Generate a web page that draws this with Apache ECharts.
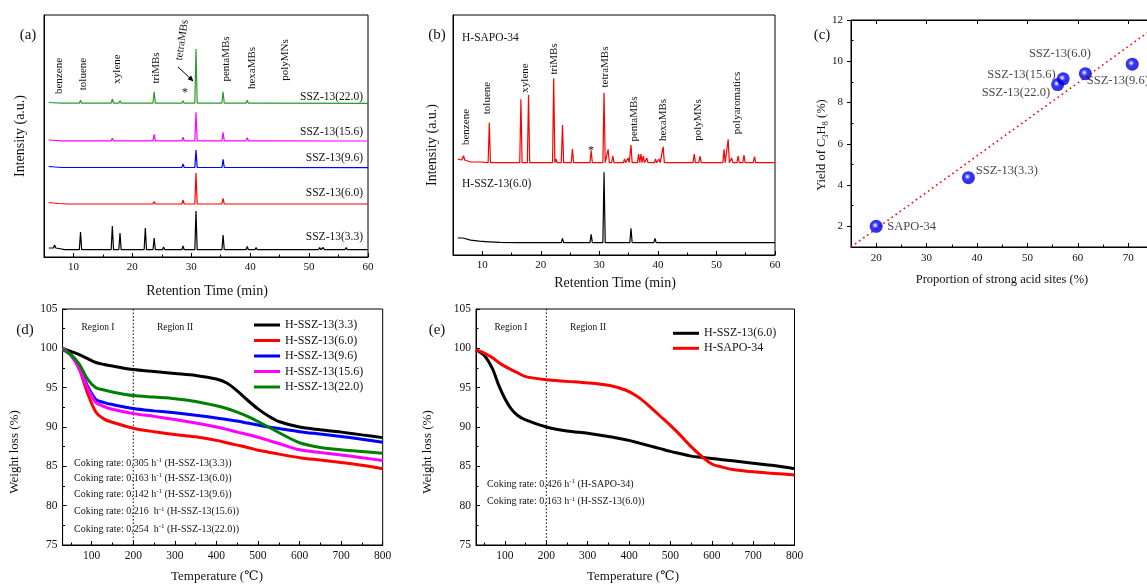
<!DOCTYPE html>
<html><head><meta charset="utf-8">
<script src="https://cdn.jsdelivr.net/npm/echarts@6/dist/echarts.min.js"></script>
<style>html,body{margin:0;padding:0;background:#fff}#c{width:1147px;height:586px}</style>
</head><body><div id="c"></div>
<script>
// ---------------- DATA ----------------
// Panel (a): GC chromatograms, retention time (min) vs offset intensity (a.u.)
const aXTicks = [10, 20, 30, 40, 50, 60];
const aXMinor = [15, 25, 35, 45, 55];
const aSampleNames = ['SSZ-13(22.0)', 'SSZ-13(15.6)', 'SSZ-13(9.6)', 'SSZ-13(6.0)', 'SSZ-13(3.3)'];
const aPeakNames = ['benzene', 'toluene', 'xylene', 'triMBs', 'tetraMBs', 'pentaMBs', 'hexaMBs', 'polyMNs'];
const aBase33 = [[5.8, 9], [7.5, 8.5], [8.5, 7.3], [60, 7.3]];
const aPeaks33 = [[6.8, 12], [11.2, 25], [16.6, 31], [17.9, 24], [22.2, 29], [23.7, 19], [25.3, 10], [28.6, 11], [30.8, 46], [35.4, 22], [39.5, 10.5], [41, 9.5], [46.3, 8.5], [47.2, 8.5], [51.8, 9.5], [52.4, 9.5], [56.3, 9.5]];
const aBase60 = [[5.8, 54.5], [7.5, 53.5], [9, 53], [60, 53]];
const aPeaks60 = [[11.2, 54.5], [16.6, 54.5], [17.9, 54.2], [23.7, 55.5], [28.6, 57], [30.8, 84], [35.4, 58.7], [39.5, 55], [56.3, 54]];
const aBase96 = [[5.8, 90.5], [8, 89.5], [60, 89.3]];
const aPeaks96 = [[11.2, 90], [16.6, 90], [23.7, 90.3], [28.6, 93], [30.8, 107], [35.4, 97.7], [39.5, 91.3]];
const aBase156 = [[5.8, 117], [8, 116.2], [60, 116]];
const aPeaks156 = [[11.2, 117], [16.6, 118.7], [17.9, 117.7], [23.7, 122.7], [28.6, 119.7], [30.8, 144.7], [35.4, 124.7], [39.5, 119.3], [41, 117]];
const aBase220 = [[5.8, 154.5], [8, 153.8], [60, 153.7]];
const aPeaks220 = [[11.2, 156.7], [16.6, 158], [17.9, 156.3], [23.7, 165.3], [28.6, 156.3], [30.8, 208], [35.4, 165.3], [39.5, 156.7], [41, 155]];

// Panel (b)
const bSampleNames = ['H-SAPO-34', 'H-SSZ-13(6.0)'];
const bPeakNames = ['benzene', 'toluene', 'xylene', 'triMBs', 'tetraMBs', 'pentaMBs', 'hexaMBs', 'polyMNs', 'polyaromatics'];
const bBaseSapo = [[5.8, 96], [6.5, 95], [8, 93], [10, 92.3], [60, 92.3]];
const bPeaksSapo = [[6.8, 99.3], [9.5, 94], [11.2, 132.3], [16.6, 155.7], [17.9, 160], [22.2, 176.7], [22.6, 96], [23.7, 130], [25.4, 106], [28.6, 104.3], [30.8, 162.3], [31.5, 105.7], [32.3, 99], [34.3, 96], [34.9, 97], [35.4, 110], [36.7, 101], [37.1, 101], [37.5, 99], [38.1, 97], [39.6, 96], [40.2, 96], [40.9, 108.3], [42.7, 94], [46.2, 101], [47.2, 99], [51.3, 105.7], [52, 115.7], [52.6, 97], [53.7, 99], [54.7, 100], [56.5, 98.5]];
const bBaseSsz = [[5.8, 17], [6.3, 17], [7, 15.8], [8, 14.8], [9.5, 13.8], [11, 13.2], [13, 12.7], [16, 12.3], [60, 12.3]];
const bPeaksSsz = [[6.5, 18.5], [11.2, 15], [16.6, 14.3], [17.9, 13.7], [23.7, 16.7], [28.6, 20.7], [30.8, 82.7], [35.4, 26.7], [39.5, 16.7]];

// Panel (c)
const cLabels = ['SAPO-34', 'SSZ-13(3.3)', 'SSZ-13(22.0)', 'SSZ-13(15.6)', 'SSZ-13(6.0)', 'SSZ-13(9.6)'];
const cX = [20, 38.3, 56.0, 57.1, 61.5, 70.8];
const cY = [2.0, 4.36, 8.87, 9.15, 9.40, 9.86];
const cFitX = [15, 75];
const cFitY = [1.0, 11.6];
const cXTicks = [20, 30, 40, 50, 60, 70];
const cXMinor = [25, 35, 45, 55, 65, 75];
const cYTicks = [2, 4, 6, 8, 10, 12];
const cYMinor = [3, 5, 7, 9, 11];

// Panel (d)
const dNames = ['H-SSZ-13(3.3)', 'H-SSZ-13(6.0)', 'H-SSZ-13(9.6)', 'H-SSZ-13(15.6)', 'H-SSZ-13(22.0)'];
const dTemp = [30, 50, 70, 90, 110, 130, 150, 200, 250, 300, 350, 400, 425, 450, 475, 500, 525, 550, 600, 650, 700, 750, 800];
const d33  = [100, 99.6, 99.2, 98.7, 98.2, 97.95, 97.75, 97.3, 97.05, 96.8, 96.55, 96.1, 95.6, 94.6, 93.4, 92.3, 91.4, 90.7, 90.0, 89.65, 89.35, 89.0, 88.65];
const d60  = [100, 99.1, 97.4, 94.3, 91.9, 91.0, 90.6, 89.85, 89.4, 89.05, 88.75, 88.3, 88.0, 87.7, 87.4, 87.05, 86.8, 86.55, 86.1, 85.8, 85.5, 85.15, 84.7];
const d96  = [100, 99.2, 97.6, 95.2, 93.5, 93.1, 92.85, 92.35, 92.05, 91.8, 91.5, 91.15, 90.95, 90.75, 90.5, 90.25, 90.0, 89.8, 89.4, 89.1, 88.8, 88.45, 88.05];
const d156 = [100, 99.1, 97.4, 95.0, 93.1, 92.6, 92.25, 91.7, 91.35, 90.95, 90.5, 90.0, 89.7, 89.35, 89.05, 88.7, 88.3, 87.9, 87.1, 86.75, 86.45, 86.1, 85.75];
const d220 = [99.8, 99.2, 98.0, 96.1, 95.0, 94.7, 94.45, 94.0, 93.8, 93.6, 93.25, 92.7, 92.35, 91.9, 91.35, 90.7, 90.0, 89.3, 88.0, 87.4, 87.1, 86.9, 86.65];
const dRates = ['0.305', '0.163', '0.142', '0.216 ', '0.254 '];
const regionBoundary = 200;
const tXTicks = [100, 200, 300, 400, 500, 600, 700, 800];
const tXMinor = [50, 150, 250, 350, 450, 550, 650, 750];
const tYTicks = [75, 80, 85, 90, 95, 100, 105];
const tYMinor = [77.5, 82.5, 87.5, 92.5, 97.5, 102.5];

// Panel (e)
const eNames = ['H-SSZ-13(6.0)', 'H-SAPO-34'];
const eTemp = [30, 50, 70, 85, 100, 115, 130, 150, 200, 250, 300, 350, 380, 400, 425, 450, 475, 500, 525, 550, 575, 600, 625, 650, 700, 750, 800];
const eSsz  = [99.8, 99.1, 97.4, 95.3, 93.6, 92.3, 91.5, 90.9, 90.0, 89.5, 89.2, 88.8, 88.5, 88.3, 87.95, 87.6, 87.25, 86.9, 86.6, 86.3, 86.15, 86.0, 85.85, 85.7, 85.4, 85.1, 84.7];
const eSapo = [99.8, 99.4, 98.8, 98.2, 97.7, 97.3, 96.9, 96.4, 96.0, 95.8, 95.6, 95.3, 94.9, 94.5, 93.7, 92.6, 91.4, 90.2, 88.9, 87.5, 86.3, 85.3, 84.9, 84.6, 84.3, 84.1, 83.9];
const eRates = ['0.426', '0.163'];
const eRateNames = ['H-SAPO-34', 'H-SSZ-13(6.0)'];

// ---------------- BUILD ----------------
const F = "'Liberation Serif','DejaVu Serif',serif";
const INK = '#111';
const E_PREFIX = 'e:';

function trace(knots, peaks) {
  const w = 0.2;
  const pts = knots.map(k => [k[0], k[1]]);
  peaks.forEach(p => {
    let b = knots[0][1];
    knots.forEach(k => { if (k[0] <= p[0]) b = k[1]; });
    pts.push([p[0] - w, b], [p[0], p[1]], [p[0] + w, b]);
  });
  pts.sort((u, v) => u[0] - v[0]);
  return pts;
}

function mainAxis(grid, min, max, pos, ticks, o) {
  o = o || {};
  return {
    type: 'value', gridIndex: grid, min, max, position: pos,
    axisLine: { show: true, onZero: false, lineStyle: { color: '#000', width: 1 } },
    axisTick: { show: o.noTicks ? false : true, inside: o.outside ? false : true, length: 4, customValues: ticks, lineStyle: { color: '#000', width: 1 } },
    axisLabel: { show: o.noLabels ? false : true, customValues: ticks, margin: o.margin || 5, fontFamily: F, fontSize: o.fs || 11, color: INK },
    splitLine: { show: false }, minorTick: { show: false }
  };
}
function minorAxis(grid, min, max, pos, ticks, o) {
  o = o || {};
  return {
    type: 'value', gridIndex: grid, min, max, position: pos,
    axisLine: { show: false, onZero: false },
    axisTick: { show: true, inside: o.outside ? false : true, length: 2.5, customValues: ticks, lineStyle: { color: '#000', width: 1 } },
    axisLabel: { show: false }, splitLine: { show: false }
  };
}

const grids = [
  { left: 44, top: 15, width: 324, height: 242 },
  { left: 453, top: 15, width: 322, height: 240 },
  { left: 851, top: 20, width: 302.4, height: 227 },
  { left: 62.6, top: 309, width: 320.1, height: 236 },
  { left: 476, top: 309, width: 318.5, height: 236 }
].map(g => Object.assign(g, { show: true, borderColor: '#000', borderWidth: 1, backgroundColor: 'transparent', containLabel: false, outerBoundsMode: 'none' }));

const xAxis = [
  mainAxis(0, 5, 60, 'bottom', aXTicks),            // 0
  minorAxis(0, 5, 60, 'bottom', aXMinor),           // 1
  mainAxis(1, 5, 60, 'bottom', aXTicks),            // 2
  minorAxis(1, 5, 60, 'bottom', aXMinor),           // 3
  mainAxis(2, 15, 75, 'bottom', cXTicks, { margin: 6 }), // 4
  minorAxis(2, 15, 75, 'bottom', cXMinor),          // 5
  mainAxis(2, 15, 75, 'top', cXTicks, { noLabels: true }), // 6
  mainAxis(3, 30, 800, 'bottom', tXTicks, { fs: 11.5 }), // 7
  minorAxis(3, 30, 800, 'bottom', tXMinor),         // 8
  mainAxis(4, 30, 800, 'bottom', tXTicks, { fs: 11.5 }), // 9
  minorAxis(4, 30, 800, 'bottom', tXMinor)          // 10
];
const yAxis = [
  mainAxis(0, 0, 242, 'left', [], { noTicks: true, noLabels: true }), // 0
  mainAxis(1, 0, 240, 'left', [], { noTicks: true, noLabels: true }), // 1
  mainAxis(2, 1, 12, 'left', cYTicks, { outside: true, margin: 8 }),  // 2
  minorAxis(2, 1, 12, 'left', cYMinor),                               // 3
  mainAxis(3, 75, 105, 'left', tYTicks, { fs: 11.5 }),                // 4
  minorAxis(3, 75, 105, 'left', tYMinor),                             // 5
  mainAxis(4, 75, 105, 'left', tYTicks, { fs: 11.5 }),                // 6
  minorAxis(4, 75, 105, 'left', tYMinor)                              // 7
];

function gc(name, data, color, xi, yi) {
  return { type: 'line', name, data, xAxisIndex: xi, yAxisIndex: yi, symbol: 'none', showSymbol: false,
    lineStyle: { color, width: 1.2 }, itemStyle: { color }, animation: false, silent: true, clip: true };
}
function tga(name, temps, vals, color, xi, yi) {
  return { type: 'line', name, data: temps.map((t, i) => [t, vals[i]]), xAxisIndex: xi, yAxisIndex: yi,
    symbol: 'none', showSymbol: false, smooth: 0.3, lineStyle: { color, width: 3 }, itemStyle: { color },
    animation: false, silent: true, z: 3 };
}
function divider(xi, yi) {
  return { type: 'line', data: [[regionBoundary, 75], [regionBoundary, 105]], xAxisIndex: xi, yAxisIndex: yi,
    symbol: 'none', lineStyle: { color: '#000', width: 1, type: [1.5, 2] }, animation: false, silent: true, z: 2 };
}

const cLabelLayout = [
  { position: [17.6, 7.2], align: 'left' },
  { position: [13.8, -0.9], align: 'left' },
  { position: [-1.1, 14.3], align: 'right' },
  { position: [-1, 2.4], align: 'right' },
  { position: [-18.9, -13.4], align: 'center' },
  { position: [-39, 22.8], align: 'left' }
];

const sphere = { type: 'radial', x: 0.42, y: 0.42, r: 0.6,
  colorStops: [{ offset: 0, color: '#ffffff' }, { offset: 0.18, color: '#8890ff' }, { offset: 0.4, color: '#0000ff' }, { offset: 1, color: '#0000c8' }] };

const series = [
  gc('a:' + aSampleNames[4], trace(aBase33, aPeaks33), '#000000', 0, 0),
  gc('a:' + aSampleNames[3], trace(aBase60, aPeaks60), '#ff0000', 0, 0),
  gc('a:' + aSampleNames[2], trace(aBase96, aPeaks96), '#0000ff', 0, 0),
  gc('a:' + aSampleNames[1], trace(aBase156, aPeaks156), '#ff00ff', 0, 0),
  gc('a:' + aSampleNames[0], trace(aBase220, aPeaks220), '#2a9a2a', 0, 0),
  gc('b:' + bSampleNames[0], trace(bBaseSapo, bPeaksSapo), '#ff0000', 2, 1),
  gc('b:' + bSampleNames[1], trace(bBaseSsz, bPeaksSsz), '#000000', 2, 1),
  { type: 'line', name: 'c:fit', data: cFitX.map((x, i) => [x, cFitY[i]]), xAxisIndex: 4, yAxisIndex: 2, symbol: 'none',
    lineStyle: { color: '#ff0000', width: 1.6, type: [1.6, 3.4] }, animation: false, silent: true },
  { type: 'scatter', name: 'c:points', xAxisIndex: 4, yAxisIndex: 2, symbol: 'circle', symbolSize: 13, animation: false, silent: true, z: 4,
    itemStyle: { color: sphere },
    data: cX.map((x, i) => ({ value: [x, cY[i]], label: Object.assign({ verticalAlign: 'middle' }, cLabelLayout[i]) })),
    label: { show: true, formatter: p => cLabels[p.dataIndex], fontFamily: F, fontSize: 12.5, color: INK } },
  tga(dNames[0], dTemp, d33, '#000000', 7, 4),
  tga(dNames[1], dTemp, d60, '#ff0000', 7, 4),
  tga(dNames[2], dTemp, d96, '#0000ff', 7, 4),
  tga(dNames[3], dTemp, d156, '#ff00ff', 7, 4),
  tga(dNames[4], dTemp, d220, '#008000', 7, 4),
  divider(7, 4),
  tga(E_PREFIX + eNames[0], eTemp, eSsz, '#000000', 9, 6),
  tga(E_PREFIX + eNames[1], eTemp, eSapo, '#ff0000', 9, 6),
  divider(9, 6)
];

const legendText = { fontFamily: F, fontSize: 12, color: INK, lineHeight: 14 };
const legend = [
  { data: dNames, left: 254, top: 318, orient: 'vertical', icon: 'rect', itemWidth: 26, itemHeight: 3, itemGap: 1.5, padding: 0, selectedMode: false, textStyle: legendText },
  { data: eNames.map(n => E_PREFIX + n), formatter: n => n.slice(E_PREFIX.length), left: 673, top: 326.3, orient: 'vertical', icon: 'rect', itemWidth: 26, itemHeight: 3, itemGap: 1, padding: 0, selectedMode: false, textStyle: legendText }
];

// ---------------- TEXT ----------------
const V = Math.PI / 2;
function T(x, y, text, size, o) {
  o = o || {};
  const st = { text, fontFamily: F, fontSize: size, fill: INK, align: o.align || 'center', verticalAlign: 'middle' };
  if (o.rich) st.rich = o.rich;
  if (o.lh) st.lineHeight = o.lh;
  return { type: 'text', x, y, rotation: o.rot || 0, silent: true, z: 10, style: st };
}
const sup = { s: { fontFamily: F, fontSize: 7, verticalAlign: 'top', fill: INK } };
const sub = { s: { fontFamily: F, fontSize: 8.5, verticalAlign: 'bottom', fill: INK } };

const g = [];
// (a)
g.push(T(28, 35, '(a)', 15));
g.push(T(20, 136, 'Intensity (a.u.)', 14, { rot: V }));
g.push(T(207, 291, 'Retention Time (min)', 14));
const aPeakPos = [[59, 76], [83, 74], [117, 69], [156, 68], [182, 40], [226, 59], [252, 68], [285, 60]];
aPeakNames.forEach((n, i) => g.push(T(aPeakPos[i][0], aPeakPos[i][1], n, 11, { rot: i === 4 ? 1.42 : V })));
g.push(T(185, 93, '*', 12));
g.push({ type: 'line', silent: true, z: 10, shape: { x1: 178, y1: 67, x2: 190.5, y2: 78.5 }, style: { stroke: '#000', lineWidth: 1 } });
g.push({ type: 'polygon', silent: true, z: 10, shape: { points: [[193.5, 81.5], [187.6, 79.2], [191.2, 75.6]] }, style: { fill: '#000' } });
const aSampleY = [97, 132, 158, 193, 237];
aSampleNames.forEach((n, i) => g.push(T(363, aSampleY[i], n, 11.5, { align: 'right' })));
// (b)
g.push(T(437, 35, '(b)', 15));
g.push(T(432, 145, 'Intensity (a.u.)', 14, { rot: V }));
g.push(T(615, 283, 'Retention Time (min)', 14));
g.push(T(462, 38, bSampleNames[0], 11.5, { align: 'left' }));
g.push(T(462, 184, bSampleNames[1], 11.5, { align: 'left' }));
const bPeakPos = [[466, 127], [487, 98], [525, 78], [554, 59], [605, 67], [634, 119], [663, 120], [698, 120], [737, 103]];
bPeakNames.forEach((n, i) => g.push(T(bPeakPos[i][0], bPeakPos[i][1], n, 11, { rot: V })));
g.push(T(591, 151, '*', 12));
// (c)
g.push(T(822, 35, '(c)', 15));
g.push(T(822, 145, 'Yield of C{s|3}H{s|8} (%)', 12.5, { rot: V, rich: sub, lh: 17 }));
g.push(T(1002, 280, 'Proportion of strong acid sites (%)', 12.5));
// (d)
g.push(T(25, 330, '(d)', 15));
g.push(T(15, 452, 'Weight loss (%)', 13, { rot: V }));
g.push(T(217, 577, 'Temperature (\u2103)', 13));
g.push(T(98, 327, 'Region I', 9.5));
g.push(T(175, 327, 'Region II', 9.5));
const dRateY = [463.3, 478.3, 494, 511.7, 529.3];
dRates.forEach((r, i) => g.push(T(74, dRateY[i], 'Coking rate: ' + r + ' h{s|-1} (' + dNames[i] + ')', 10, { align: 'left', rich: sup, lh: 13 })));
// (e)
g.push(T(437, 330, '(e)', 15));
g.push(T(428, 452, 'Weight loss (%)', 13, { rot: V }));
g.push(T(633, 577, 'Temperature (\u2103)', 13));
g.push(T(511, 327, 'Region I', 9.5));
g.push(T(588, 327, 'Region II', 9.5));
const eRateY = [484.3, 501.7];
eRates.forEach((r, i) => g.push(T(487, eRateY[i], 'Coking rate: ' + r + ' h{s|-1} (' + eRateNames[i] + ')', 10, { align: 'left', rich: sup, lh: 13 })));

const chart = echarts.init(document.getElementById('c'), null, { renderer: 'canvas' });
chart.setOption({
  backgroundColor: '#fff', animation: false,
  grid: grids, xAxis, yAxis, series, legend,
  graphic: { elements: g }
});
</script></body></html>
